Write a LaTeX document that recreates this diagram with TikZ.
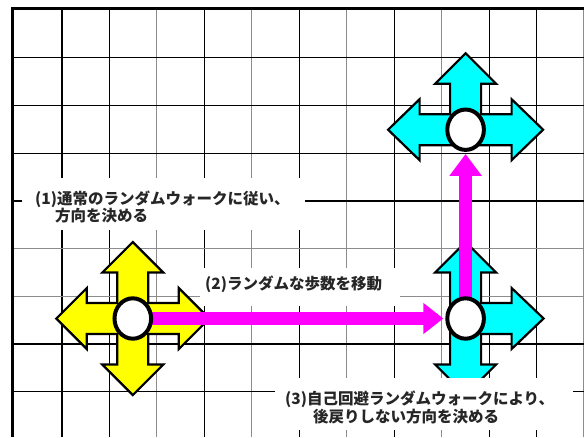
\documentclass[tikz,border=0pt]{standalone}
\usepackage{fontspec}
\newfontfamily\jp{Noto Sans CJK JP}
\usetikzlibrary{shapes.geometric,arrows.meta}
\definecolor{ye}{RGB}{255,255,0}
\definecolor{cy}{RGB}{0,255,255}
\definecolor{mg}{RGB}{255,0,255}
\pgfdeclarelayer{bg}
\pgfdeclarelayer{mid}
\pgfsetlayers{bg,mid,main}
\begin{document}
\begin{tikzpicture}[x=1pt,y=-1pt,
  gk/.style={line width=1.1pt,black},
  gg/.style={line width=1.1pt,black!45},
  border/.style={line width=3pt,black},
  crossy/.style={fill=ye,draw=black,line width=2.2pt},
  crossc/.style={fill=cy,draw=black,line width=2.2pt},
  mag/.style={draw=mg,line width=13.5pt,-{Triangle[length=20pt 0,width=30pt 0]}},
  ring/.style={ellipse,draw=black,line width=4pt,fill=white,minimum width=36.6pt,minimum height=40.4pt,inner sep=0pt},
  wbox/.style={fill=white},
  lbl/.style={font=\jp\bfseries\fontsize{15.5}{18}\selectfont,text=black!85,anchor=base west,inner sep=0pt}]
\useasboundingbox (0,0) rectangle (584,437);
% circles (positions)
\node[ring] (p1) at (132.8,318.5) {};
\node[ring] (p2) at (465.6,318.5) {};
\node[ring] (p3) at (465.6,129.7) {};
\begin{pgfonlayer}{bg}
\fill[white] (0,0) rectangle (584,437);
% grid
\foreach \x/\s in {62/gk,109.45/gk,156.9/gg,204.35/gk,251.8/gg,299.25/gk,346.7/gg,394.15/gk,441.6/gg,489.05/gk,536.5/gk,583.5/gg}
  \draw[\s] (\x,8) -- (\x,437);
\foreach \y/\s in {57.5/gk,105.5/gk,153.5/gk,201/gk,248.3/gg,296.3/gg,344/gk,391.4/gk}
  \draw[\s] (12,\y) -- (584,\y);
\draw[border] (12.7,437) -- (12.7,8.5) -- (584,8.5);
% white label backgrounds
\fill[wbox] (22,178) rectangle (305,230);
\fill[wbox] (200,268) rectangle (400,306);
% crosses
\begin{scope}[shift={(132.8,318.5)}]
\draw[crossy] (0,-76.5) -- (30.5,-46) -- (15.5,-46) -- (15.5,-15.5) -- (46,-15.5) -- (46,-30.5) -- (76.5,0) -- (46,30.5) -- (46,15.5) -- (15.5,15.5) -- (15.5,46) -- (30.5,46) -- (0,76.5) -- (-30.5,46) -- (-15.5,46) -- (-15.5,15.5) -- (-46,15.5) -- (-46,30.5) -- (-76.5,0) -- (-46,-30.5) -- (-46,-15.5) -- (-15.5,-15.5) -- (-15.5,-46) -- (-30.5,-46) -- cycle;
\end{scope}
\begin{scope}[shift={(465.6,129.7)}]
\draw[crossc] (0,-76.5) -- (30.5,-46) -- (15.5,-46) -- (15.5,-15.5) -- (46,-15.5) -- (46,-30.5) -- (77.5,0) -- (46,30.5) -- (46,15.5) -- (-46,15.5) -- (-46,30.5) -- (-77.5,0) -- (-46,-30.5) -- (-46,-15.5) -- (-15.5,-15.5) -- (-15.5,-46) -- (-30.5,-46) -- cycle;
\end{scope}
\begin{scope}[shift={(465.6,318.5)}]
\draw[crossc] (0,-76.5) -- (30.5,-46) -- (15.5,-46) -- (15.5,-15.5) -- (46,-15.5) -- (46,-30.5) -- (78,0) -- (46,30.5) -- (46,15.5) -- (15.5,15.5) -- (15.5,46) -- (30.5,46) -- (0,76.5) -- (-30.5,46) -- (-15.5,46) -- (-15.5,-46) -- (-30.5,-46) -- cycle;
\end{scope}
\end{pgfonlayer}
\begin{pgfonlayer}{mid}
\draw[mag,shorten >=2pt] (p1.center) -- (p2.west);
\draw[mag,-{Triangle[length=22pt 0,width=31pt 0]},shorten >=2pt] (p2.center) -- (p3.south);
\end{pgfonlayer}
% label 3 background over cyan arm
\fill[wbox] (275,378) rectangle (573,430);
% labels
\node[lbl] (l1a) at (35,204) {(1)通常のランダムウォークに従い、};
\node[lbl] (l1b) at (55,221.5) {方向を決める};
\node[lbl] (l2) at (205,289) {(2)ランダムな歩数を移動};
\node[lbl] (l3a) at (285,404) {(3)自己回避ランダムウォークにより、};
\node[lbl] (l3b) at (313,422) {後戻りしない方向を決める};
\end{tikzpicture}
\end{document}
